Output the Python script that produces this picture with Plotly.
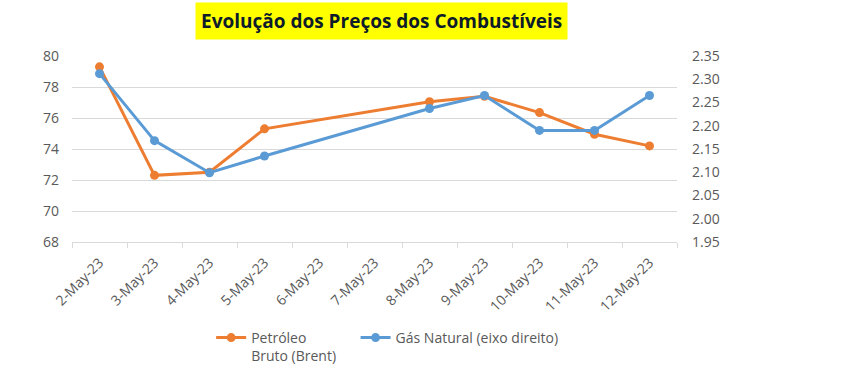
import plotly.graph_objects as go

all_days = ["2-May-23", "3-May-23", "4-May-23", "5-May-23", "6-May-23", "7-May-23",
            "8-May-23", "9-May-23", "10-May-23", "11-May-23", "12-May-23"]
trade_days = ["2-May-23", "3-May-23", "4-May-23", "5-May-23",
              "8-May-23", "9-May-23", "10-May-23", "11-May-23", "12-May-23"]
brent = [79.3, 72.3, 72.5, 75.3, 77.05, 77.4, 76.35, 74.95, 74.2]
gas = [2.312, 2.168, 2.099, 2.135, 2.237, 2.265, 2.190, 2.190, 2.265]

title_text = "Evolução dos Preços dos Combustíveis"
left_ticks = [68, 70, 72, 74, 76, 78, 80]
right_ticks = [1.95, 2.00, 2.05, 2.10, 2.15, 2.20, 2.25, 2.30, 2.35]

FONT = "Open Sans"
GRAY = "#595959"

fig = go.Figure()
fig.add_trace(go.Scatter(
    x=trade_days, y=brent, name="Petróleo<br>Bruto (Brent)" + "&nbsp;" * 4,
    mode="lines+markers",
    line=dict(color="#ED7D31", width=3), marker=dict(size=9, color="#ED7D31"),
    yaxis="y"))
fig.add_trace(go.Scatter(
    x=trade_days, y=gas, name="Gás Natural (eixo direito)", mode="lines+markers",
    line=dict(color="#5B9BD5", width=3), marker=dict(size=9, color="#5B9BD5"),
    yaxis="y2"))

fig.update_layout(
    width=851, height=367,
    margin=dict(l=72, r=174, t=56, b=125, pad=0, autoexpand=False),
    paper_bgcolor="white", plot_bgcolor="white",
    font=dict(family=FONT, color=GRAY, size=14),
    showlegend=True,
    legend=dict(orientation="h", x=0.23, xanchor="left", y=-0.43, yanchor="top",
                font=dict(family=FONT, size=14, color=GRAY),
                itemclick=False, traceorder="normal", valign="top"),
    xaxis=dict(type="category", categoryorder="array", categoryarray=all_days,
               tickmode="array", tickvals=all_days, ticktext=all_days,
               range=[-0.5, len(all_days) - 0.5], automargin=False,
               tickson="boundaries", ticks="outside", ticklen=5, tickcolor="#D9D9D9",
               showline=True, linecolor="#D9D9D9", linewidth=1,
               showgrid=False, tickangle=-45, ticklabelstandoff=6,
               tickfont=dict(family=FONT, size=14, color=GRAY)),
    yaxis=dict(range=[68, 80], tickmode="array", tickvals=left_ticks, automargin=False,
               showgrid=True, gridcolor="#D9D9D9", gridwidth=1, zeroline=False,
               ticks="", ticklabelstandoff=12,
               tickfont=dict(family=FONT, size=14, color=GRAY)),
    yaxis2=dict(range=[1.95, 2.35], overlaying="y", side="right", automargin=False,
                tickmode="array", tickvals=right_ticks,
                ticktext=[f"{v:.2f}" for v in right_ticks],
                showgrid=False, zeroline=False, ticks="", ticklabelstandoff=14,
                tickfont=dict(family=FONT, size=14, color=GRAY)),
    annotations=[dict(
        text="<b>" + title_text + "</b>", xref="paper", yref="paper",
        x=(381 - 72) / 605, y=1 + (56 - 21) / 186, xanchor="center", yanchor="middle",
        showarrow=False, bgcolor="#FFFF00", borderpad=5,
        font=dict(family=FONT, size=19, color="#0D1B2A"))],
)

fig.write_html("out.html", config={"displayModeBar": False},
               post_script="document.body.style.margin='0';")
